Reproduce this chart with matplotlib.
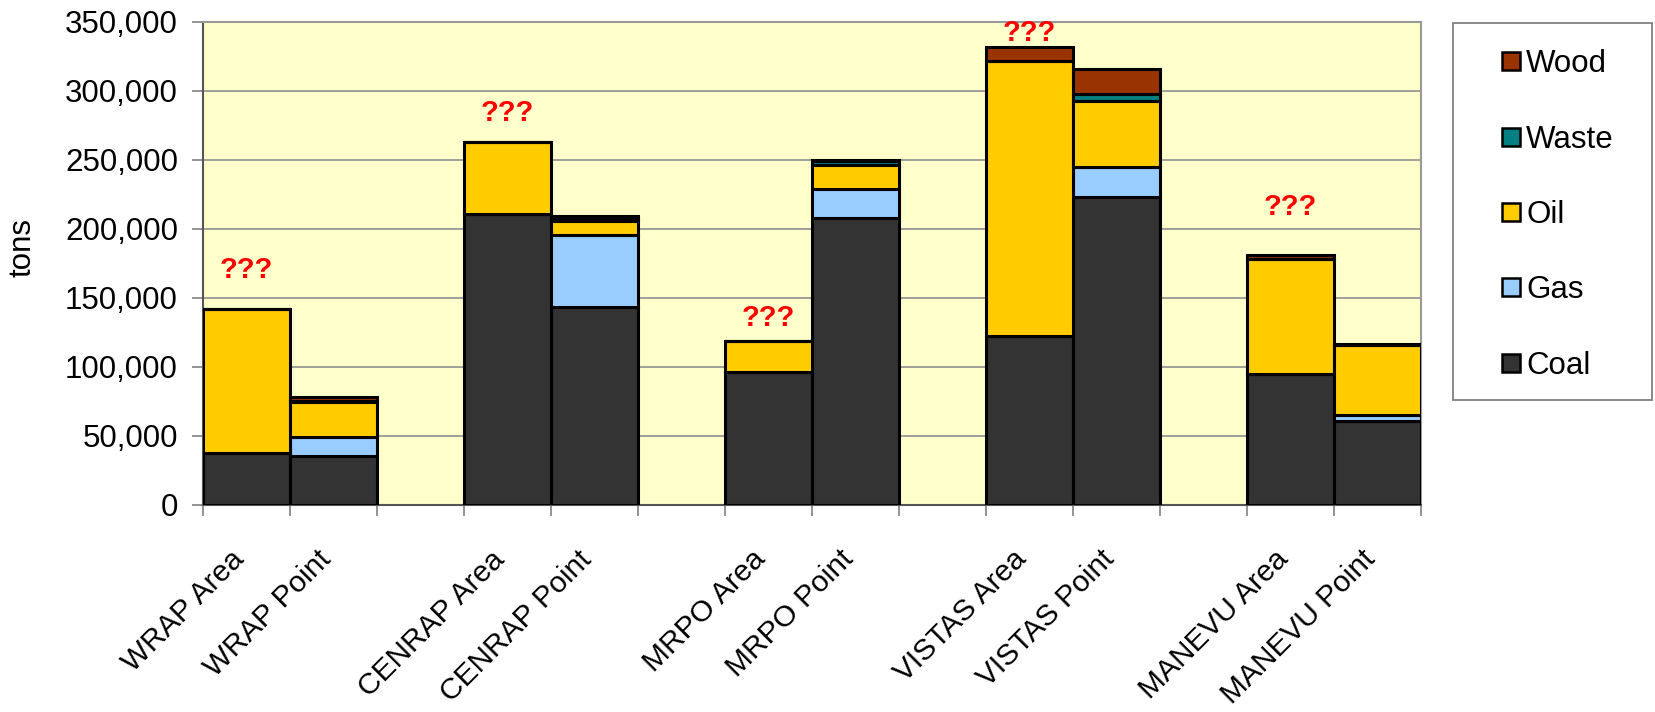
import matplotlib
matplotlib.use("Agg")
import matplotlib.pyplot as plt
import matplotlib.transforms as mtransforms
from matplotlib.ticker import FuncFormatter, FixedLocator
from matplotlib.patches import Rectangle
from matplotlib.lines import Line2D

plt.rcParams['font.family'] = ['Liberation Sans', 'DejaVu Sans']

categories = ["WRAP Area", "WRAP Point", "CENRAP Area", "CENRAP Point",
              "MRPO Area", "MRPO Point", "VISTAS Area", "VISTAS Point",
              "MANEVU Area", "MANEVU Point"]
positions = [0, 1, 3, 4, 6, 7, 9, 10, 12, 13]

coal  = [38000, 35500, 211000, 143500, 96000, 207500, 122000, 223000, 95000, 61000]
gas   = [0, 14000, 0, 52000, 0, 21000, 0, 21500, 0, 4500]
oil   = [103700, 25300, 51500, 10300, 23000, 17700, 199500, 48000, 83300, 50300]
waste = [0, 500, 0, 1000, 0, 3000, 0, 4800, 0, 0]
wood  = [0, 3000, 0, 2600, 0, 500, 10300, 18400, 2700, 1000]

series_names = ["Coal", "Gas", "Oil", "Waste", "Wood"]
series_vals = [coal, gas, oil, waste, wood]
series_colors = ["#333333", "#99CCFF", "#FFCC00", "#008080", "#993300"]

flag_positions = [0, 3, 6, 9, 12]
flag_values = [170000, 284000, 135500, 341500, 216000]
flag_text = "???"

FS = 22.5

fig = plt.figure(figsize=(16.56, 7.12), dpi=100)
ax = fig.add_axes([203/1656, 1 - 505/712, (1421 - 203)/1656, (505 - 21.5)/712])
ax.set_facecolor("#FFFFCC")

bottom = [0] * len(categories)
for name, vals, col in zip(series_names, series_vals, series_colors):
    ax.bar(positions, vals, width=1.0, bottom=bottom, color=col,
           edgecolor="black", linewidth=2.2, zorder=3)
    bottom = [b + v for b, v in zip(bottom, vals)]

for x, y in zip(flag_positions, flag_values):
    ax.text(x, y, flag_text, color="red", fontsize=21, fontweight="bold",
            ha="center", va="center", zorder=4)

ax.set_xlim(-0.5, 13.5)
ax.set_ylim(0, 350000)
ax.yaxis.set_major_locator(FixedLocator(range(0, 350001, 50000)))
ax.yaxis.set_major_formatter(FuncFormatter(lambda v, p: f"{int(v):,}"))
ax.grid(axis="y", color="#999999", linewidth=1.3, zorder=1)
ax.set_axisbelow(True)

# x ticks at bar boundaries, labels centered on bars
edges = sorted(set([p - 0.5 for p in positions] + [p + 0.5 for p in positions]))
ax.set_xticks(edges, minor=True)
ax.set_xticks(positions)
ax.set_xticklabels(categories, rotation=45, ha="right", va="center",
                   rotation_mode="anchor", fontsize=21.5)
ax.tick_params(axis="x", which="major", length=0, pad=36)
ax.tick_params(axis="x", which="minor", length=8, width=1.2, color="#808080")
ax.tick_params(axis="y", length=8, width=1.2, color="#808080", labelsize=FS, pad=10)
shift = mtransforms.ScaledTranslation(-7/100, 0, fig.dpi_scale_trans)
for lab in ax.get_xticklabels():
    lab.set_transform(lab.get_transform() + shift)

for s in ["top", "right"]:
    ax.spines[s].set_color("#999999")
    ax.spines[s].set_linewidth(1.5)
ax.spines["left"].set_color("#555555")
ax.spines["left"].set_linewidth(1.5)
ax.spines["bottom"].set_color("#555555")
ax.spines["bottom"].set_linewidth(1.5)

fig.text(23/1656, 1 - 247/712, "tons", rotation=90, fontsize=FS,
         ha="center", va="center")

# legend frame
frame = Rectangle((1453/1656, 1 - 400/712), (1652 - 1453)/1656, (400 - 23)/712,
                  transform=fig.transFigure, facecolor="white",
                  edgecolor="#808080", linewidth=1.3)
fig.patches.append(frame)

handles = []
for name, col in zip(series_names[::-1], series_colors[::-1]):
    handles.append(Line2D([], [], linestyle="none", marker="s", markersize=13,
                          markerfacecolor=col, markeredgecolor="black",
                          markeredgewidth=1.8, label=name))
leg = fig.legend(handles=handles, loc="center left",
                 bbox_to_anchor=(1483/1656, 1 - 215/712), frameon=False,
                 fontsize=FS, labelspacing=1.45, handlelength=0.8,
                 handletextpad=0.08, borderpad=0)

fig.savefig("out.png", dpi=100)
